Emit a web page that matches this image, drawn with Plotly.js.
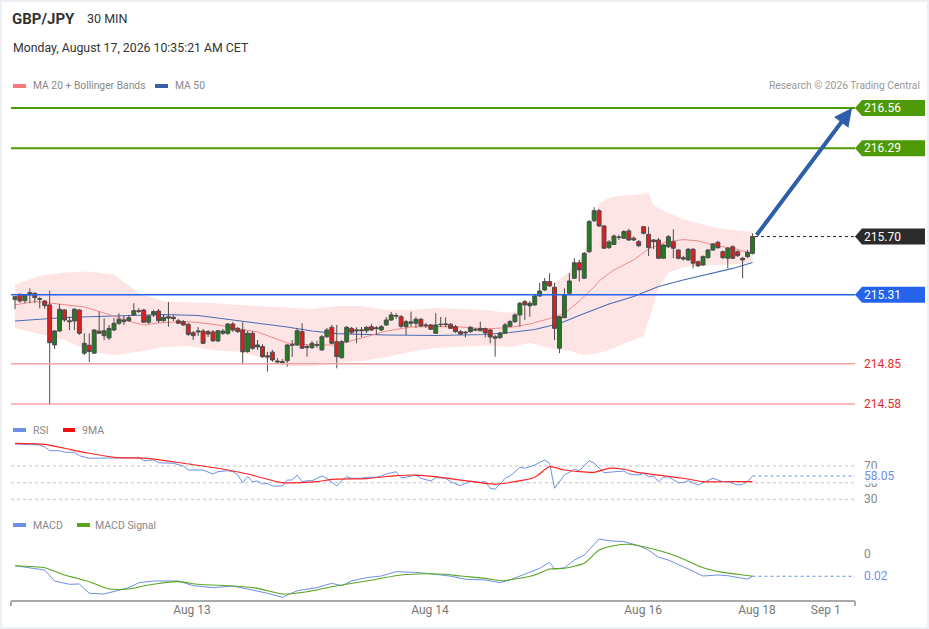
<!DOCTYPE html>
<html>
<head>
<meta charset="utf-8">
<script src="https://cdn.plot.ly/plotly-3.0.1.min.js"></script>
<style>
html,body{margin:0;padding:0;background:#fff;}
#chart{width:929px;height:629px;}
#frame{position:absolute;left:0;top:0;width:929px;height:629px;box-sizing:border-box;border:2px solid #eceff3;pointer-events:none;}
</style>
</head>
<body>
<div id="chart"></div>
<div id="frame"></div>
<script>
// ================= DATA =================
const open = [215.278,215.314,215.271,215.310,215.321,215.285,215.269,215.243,214.975,215.068,215.209,215.137,215.135,215.209,214.920,214.973,214.920,215.068,215.037,215.022,215.075,215.120,215.131,215.137,215.176,215.204,215.209,215.127,215.176,215.202,215.137,215.164,215.160,215.137,215.131,215.113,215.057,215.062,215.068,215.064,215.062,215.002,215.053,215.053,215.115,215.086,215.075,214.931,215.053,214.962,214.964,214.902,214.927,214.868,214.864,214.870,214.973,214.975,215.064,214.957,214.957,214.973,214.942,215.030,215.093,214.997,214.890,214.997,215.086,215.068,215.070,215.070,215.097,215.084,215.075,215.109,215.142,215.172,215.164,215.098,215.120,215.120,215.147,215.109,215.109,215.053,215.111,215.111,215.113,215.097,215.064,215.055,215.064,215.080,215.070,215.085,215.075,215.030,215.024,215.053,215.100,215.131,215.176,215.265,215.236,215.243,215.303,215.343,215.399,215.361,214.953,215.157,215.321,215.421,215.525,215.421,215.599,215.806,215.873,215.771,215.626,215.647,215.694,215.689,215.738,215.689,215.666,215.766,215.715,215.677,215.677,215.555,215.632,215.666,215.610,215.559,215.544,215.615,215.532,215.510,215.559,215.610,215.662,215.599,215.555,215.632,215.599,215.555,215.566,215.588];
const high = [215.303,215.318,215.314,215.354,215.325,215.298,215.276,215.338,215.075,215.249,215.214,215.164,215.220,215.214,215.053,215.053,215.080,215.198,215.153,215.109,215.155,215.187,215.169,215.176,215.254,215.222,215.216,215.176,215.209,215.216,215.176,215.261,215.176,215.149,215.142,215.122,215.068,215.095,215.082,215.075,215.075,215.075,215.082,215.122,215.129,215.095,215.127,215.068,215.068,215.008,214.981,214.929,214.942,214.888,214.882,214.981,215.008,215.089,215.120,214.975,215.002,215.002,215.042,215.089,215.109,215.109,215.008,215.102,215.095,215.093,215.095,215.102,215.115,215.102,215.109,215.162,215.196,215.187,215.176,215.142,215.198,215.162,215.155,215.122,215.115,215.187,215.162,215.160,215.122,215.109,215.075,215.068,215.102,215.089,215.131,215.091,215.082,215.042,215.062,215.122,215.142,215.187,215.263,215.276,215.269,215.310,215.390,215.423,215.455,215.390,215.169,215.354,215.455,215.555,215.544,215.597,215.811,215.896,215.884,215.778,215.677,215.714,215.711,215.744,215.751,215.701,215.677,215.771,215.766,215.684,215.691,215.651,215.711,215.748,215.617,215.570,215.624,215.624,215.540,215.574,215.617,215.657,215.671,215.607,215.630,215.641,215.607,215.564,215.610,215.722];
const low = [215.214,215.258,215.254,215.254,215.254,215.220,215.216,214.574,214.948,215.064,215.131,215.075,215.075,215.042,214.908,214.860,214.915,215.048,215.008,215.008,215.068,215.109,215.109,215.129,215.169,215.189,215.122,215.115,215.162,215.122,215.129,215.097,215.135,215.115,215.102,215.035,215.008,215.035,214.981,215.028,214.995,214.995,215.042,215.042,215.062,215.055,214.846,214.922,214.942,214.942,214.888,214.797,214.862,214.848,214.842,214.830,214.895,214.968,214.948,214.897,214.948,214.955,214.935,215.022,214.981,214.819,214.882,214.988,215.048,214.986,215.028,215.055,215.068,215.042,215.068,215.102,215.135,215.149,215.089,215.042,215.097,215.089,215.095,215.089,215.075,215.048,215.095,215.095,215.082,215.055,215.042,215.025,215.055,215.068,215.068,215.025,214.986,214.897,215.015,215.048,215.095,215.122,215.097,215.142,215.164,215.236,215.296,215.336,215.363,215.008,214.920,215.155,215.316,215.416,215.399,215.416,215.590,215.798,215.764,215.617,215.617,215.644,215.677,215.684,215.671,215.671,215.630,215.714,215.570,215.617,215.550,215.550,215.624,215.555,215.547,215.540,215.537,215.488,215.497,215.504,215.553,215.604,215.617,215.550,215.488,215.550,215.564,215.421,215.557,215.580];
const close = [215.298,215.269,215.310,215.325,215.291,215.281,215.238,214.990,215.068,215.214,215.142,215.131,215.214,215.053,214.986,214.931,215.075,215.053,215.070,215.086,215.120,215.147,215.142,215.157,215.204,215.200,215.127,215.169,215.198,215.137,215.160,215.155,215.151,215.120,215.109,215.046,215.037,215.068,214.986,215.048,215.003,215.070,215.068,215.115,215.075,215.064,214.929,215.053,214.953,214.975,214.897,214.895,214.875,214.862,214.857,214.975,214.977,215.070,214.953,214.964,214.986,214.977,215.030,215.075,214.986,214.897,214.997,215.093,215.060,215.075,215.075,215.093,215.075,215.089,215.097,215.142,215.176,215.169,215.100,215.131,215.129,215.147,215.102,215.104,215.080,215.109,215.113,215.115,215.086,215.064,215.048,215.060,215.093,215.075,215.086,215.055,215.028,215.020,215.055,215.109,215.131,215.176,215.254,215.243,215.254,215.303,215.336,215.399,215.370,215.086,215.164,215.310,215.403,215.525,215.477,215.588,215.800,215.873,215.771,215.622,215.664,215.704,215.696,215.733,215.677,215.677,215.639,215.722,215.626,215.666,215.555,215.644,215.699,215.622,215.555,215.550,215.615,215.522,215.504,215.566,215.610,215.651,215.626,215.559,215.622,215.555,215.572,215.544,215.595,215.700];

const bbUpperIdx = [0,5,10,15,20,25,30,35,40,45,50,55,60,65,70,75,80,85,90,95,100,104,107,110,112,115,117,118,120,122,125,128,129,130,132,135,137,140,142,145,149];
const bbUpper = [215.377,215.437,215.460,215.467,215.444,215.323,215.266,215.263,215.256,215.243,215.233,215.222,215.216,215.236,215.236,215.209,215.209,215.222,215.216,215.209,215.189,215.229,215.343,215.417,215.464,215.590,215.811,215.925,215.958,215.972,215.978,215.992,215.911,215.891,215.858,215.818,215.798,215.771,215.758,215.744,215.731];
const bbLowerIdx = [0,5,10,15,20,25,30,35,40,45,50,55,60,65,70,75,80,85,90,95,100,104,108,112,115,118,121,125,127,129,130,132,135,140,145,149];
const bbLower = [215.088,215.048,215.008,214.929,214.908,214.929,214.962,214.968,214.942,214.929,214.888,214.835,214.835,214.855,214.868,214.895,214.929,214.955,214.965,214.972,214.962,214.988,214.955,214.935,214.908,214.922,214.955,215.008,215.035,215.243,215.356,215.457,215.497,215.510,215.517,215.524];
const ma20Idx = [0,4,7,10,14,17,20,24,26,29,34,37,41,44,49,55,60,65,70,75,80,85,90,95,100,104,108,111,114,117,118,121,125,128,131,135,138,141,145,149];
const ma20 = [215.243,215.266,215.256,215.243,215.229,215.199,215.166,215.125,215.109,215.122,215.132,215.125,215.109,215.089,215.062,214.988,214.975,214.975,215.022,215.068,215.095,215.098,215.095,215.082,215.092,215.115,215.152,215.186,215.269,215.363,215.403,215.477,215.544,215.617,215.660,215.680,215.671,215.644,215.620,215.587];
const ma50Idx = [0,5,10,20,30,37,44,50,55,60,65,75,85,95,100,105,110,115,120,125,130,135,140,145,149];
const ma50 = [215.135,215.149,215.159,215.169,215.179,215.172,215.142,215.115,215.095,215.068,215.051,215.042,215.038,215.045,215.058,215.078,215.118,215.186,215.249,215.299,215.366,215.410,215.447,215.487,215.527];

const rsiIdx = [0,5,6,7,9,10,12,13,15,19,24,25,26,28,29,32,34,35,38,40,41,43,44,45,46,47,48,49,50,51,52,54,55,56,57,58,59,60,61,62,63,65,66,67,68,70,71,73,74,75,77,78,79,81,82,84,85,87,88,90,92,94,95,96,97,99,100,102,103,105,107,108,109,111,113,114,116,117,119,121,123,124,126,127,128,129,130,131,132,134,135,136,138,139,141,142,143,144,146,147,148,149];
const rsi = [96.4,95.2,92.8,88.4,88.4,86.5,86.5,82.4,79.3,79.3,80.0,80.5,76.4,77.2,74.0,73.3,70.0,65.2,65.2,60.4,63.2,64.4,63.2,59.2,50.0,57.2,51.2,52.0,48.4,49.3,46.0,46.0,53.2,53.2,59.2,51.2,52.4,52.4,55.3,58.0,55.3,46.0,52.4,57.2,55.3,55.3,56.5,56.5,58.0,60.4,63.2,56.0,56.5,59.2,55.3,52.0,56.0,55.3,51.2,46.4,52.0,50.5,51.2,43.3,42.1,55.3,58.0,68.5,67.3,71.2,77.2,73.3,43.3,59.2,66.1,64.4,76.4,73.3,62.0,63.2,64.0,60.4,59.2,61.3,57.2,58.0,51.2,56.5,57.2,50.0,50.0,52.4,47.2,50.0,55.3,53.2,51.2,51.2,47.2,48.1,51.2,58.05];
const rsiMaIdx = [0,6,10,15,20,27,34,41,47,54,61,64,71,77,81,85,90,97,101,105,108,111,117,120,123,126,130,135,139,145,149];
const rsiMa = [97.3,96.1,91.3,85.3,80.5,79.3,73.3,67.3,60.4,50.0,51.2,54.1,55.0,58.4,59.2,57.2,53.2,48.4,51.2,56.5,69.2,65.2,62.5,67.3,66.1,62.0,59.2,55.3,51.2,51.2,51.2];

const macdIdx = [0,6,8,11,13,15,18,20,23,25,28,33,36,40,44,47,51,54,57,61,64,66,68,71,74,77,81,85,88,90,91,95,98,100,103,106,108,109,111,113,115,118,120,123,126,128,130,132,135,138,139,142,144,147,148,149];
const macd = [-0.0099,-0.0137,-0.0232,-0.0261,-0.0258,-0.0339,-0.0345,-0.0325,-0.0290,-0.0247,-0.0232,-0.0232,-0.0273,-0.0290,-0.0276,-0.0302,-0.0339,-0.0374,-0.0317,-0.0290,-0.0252,-0.0273,-0.0232,-0.0203,-0.0189,-0.0151,-0.0157,-0.0174,-0.0190,-0.0209,-0.0217,-0.0223,-0.0247,-0.0223,-0.0174,-0.0122,-0.0070,-0.0128,-0.0117,-0.0050,-0.0006,0.0133,0.0118,0.0110,0.0075,0.0037,-0.0026,-0.0050,-0.0108,-0.0165,-0.0189,-0.0180,-0.0186,-0.0209,-0.0215,-0.0191];
const signalIdx = [0,6,10,15,19,23,27,33,37,44,49,54,59,64,71,78,83,87,90,95,98,101,105,108,111,115,118,121,124,127,132,135,139,143,146,149];
const signal = [-0.0099,-0.0117,-0.0180,-0.0238,-0.0302,-0.0302,-0.0267,-0.0238,-0.0261,-0.0276,-0.0296,-0.0345,-0.0325,-0.0282,-0.0232,-0.0180,-0.0169,-0.0174,-0.0189,-0.0209,-0.0230,-0.0215,-0.0180,-0.0128,-0.0122,-0.0078,0.0037,0.0075,0.0087,0.0066,0.0009,-0.0041,-0.0117,-0.0157,-0.0174,-0.0191];

const tickPos = [35.76, 83.84, 126.9, 149.9, 163.8];
const tickText = ['Aug 13', 'Aug 14', 'Aug 16', 'Aug 18', 'Sep 1'];
const levelValues = [216.56, 216.29, 215.70, 215.31, 214.85, 214.58];
const levelText = ['216.56', '216.29', '215.70', '215.31', '214.85', '214.58'];
const levelKind = ['green', 'green', 'dark', 'blue', 'red', 'red'];
const rsiLevels = [70, 50, 30];
const rsiLevelText = ['70', '50', '30'];
const rsiLastText = '58.05';
const macdZero = 0;
const macdZeroText = '0';
const macdLastText = '0.02';

// ================= LAYOUT HELPERS =================
const FONT = 'Roboto, "Open Sans", Arial, sans-serif';
const PLOT = {l: 11, r: 855, t: 100, b: 601};
const fx = x => (x - PLOT.l) / (PLOT.r - PLOT.l);
const fy = y => (PLOT.b - y) / (PLOT.b - PLOT.t);
const X_RANGE = [-0.81, 169.7];
const MAIN_RANGE = [214.5399, 216.6135];
const RSI_RANGE = [17.24, 113.24];
const MACD_RANGE = [-0.04061, 0.01678];
const MAIN_DOM = [fy(410), 1];
const RSI_DOM = [fy(510), fy(430)];
const MACD_DOM = [0, fy(535)];
const toPaper = (v, range, dom) => dom[0] + (v - range[0]) / (range[1] - range[0]) * (dom[1] - dom[0]);

const COLORS = {
  green: '#4e9a06', blue: '#2563eb', dark: '#2b2b2b', red: '#e62b2b', redLine: '#f4a3a3',
  ma20: '#f28a8a', ma50: '#4a6db5', rsi: '#6f8fe6', rsiMa: '#ff2424', macd: '#6f8fe6', signal: '#58a61e',
  up: '#1f7d1f', down: '#e41b1b', wick: '#4d4d4d', text: '#333', legend: '#888', axis: '#aaa'
};

const idx = close.map((_, i) => i);
const lastIdx = idx[idx.length - 1];

// ================= TRACES =================
const traces = [];
traces.push({
  type: 'scatter', mode: 'lines', xaxis: 'x', yaxis: 'y',
  x: bbUpperIdx.concat(bbLowerIdx.slice().reverse()),
  y: bbUpper.concat(bbLower.slice().reverse()),
  fill: 'toself', fillcolor: 'rgba(248,82,82,0.15)', line: {width: 0}, hoverinfo: 'skip'
});
traces.push({type: 'scatter', mode: 'lines', xaxis: 'x', yaxis: 'y', x: ma50Idx, y: ma50,
  line: {color: COLORS.ma50, width: 1.1}, hoverinfo: 'skip'});
traces.push({type: 'scatter', mode: 'lines', xaxis: 'x', yaxis: 'y', x: ma20Idx, y: ma20,
  line: {color: COLORS.ma20, width: 1}, hoverinfo: 'skip'});
traces.push({
  type: 'candlestick', xaxis: 'x', yaxis: 'y4', x: idx, open: open, high: high, low: low, close: close,
  increasing: {line: {color: COLORS.wick, width: 1}, fillcolor: COLORS.up},
  decreasing: {line: {color: COLORS.wick, width: 1}, fillcolor: COLORS.down},
  whiskerwidth: 0, hoverinfo: 'skip'
});
traces.push({type: 'scatter', mode: 'lines', xaxis: 'x', yaxis: 'y2', x: rsiIdx, y: rsi,
  line: {color: COLORS.rsi, width: 1}, hoverinfo: 'skip'});
traces.push({type: 'scatter', mode: 'lines', xaxis: 'x', yaxis: 'y2', x: rsiMaIdx, y: rsiMa,
  line: {color: COLORS.rsiMa, width: 1.2, shape: 'spline', smoothing: 0.6}, hoverinfo: 'skip'});
traces.push({type: 'scatter', mode: 'lines', xaxis: 'x', yaxis: 'y3', x: macdIdx, y: macd,
  line: {color: COLORS.macd, width: 1}, hoverinfo: 'skip'});
traces.push({type: 'scatter', mode: 'lines', xaxis: 'x', yaxis: 'y3', x: signalIdx, y: signal,
  line: {color: COLORS.signal, width: 1.1, shape: 'spline', smoothing: 0.6}, hoverinfo: 'skip'});

// ================= SHAPES =================
const shapes = [];
const labelH = 8 / (PLOT.b - PLOT.t);
levelValues.forEach((v, k) => {
  const kind = levelKind[k];
  if (kind === 'dark') {
    shapes.push({type: 'line', xref: 'x', yref: 'y', x0: lastIdx + 0.5, x1: X_RANGE[1], y0: v, y1: v,
      line: {color: '#222', width: 1, dash: 'dot'}, layer: 'above'});
  } else {
    const col = kind === 'red' ? COLORS.redLine : COLORS[kind];
    const w = kind === 'green' ? 2 : 1.5;
    shapes.push({type: 'line', xref: 'paper', yref: 'y', x0: 0, x1: 1, y0: v, y1: v,
      line: {color: col, width: w}, layer: 'above'});
  }
  if (kind !== 'red') {
    const yc = toPaper(v, MAIN_RANGE, MAIN_DOM);
    const a = fx(855), b = fx(862), c = fx(925);
    shapes.push({type: 'path', xref: 'paper', yref: 'paper',
      path: `M ${a} ${yc} L ${b} ${yc + labelH} L ${c} ${yc + labelH} L ${c} ${yc - labelH} L ${b} ${yc - labelH} Z`,
      fillcolor: COLORS[kind], line: {width: 0}, layer: 'above'});
  }
});
rsiLevels.forEach(v => {
  shapes.push({type: 'line', xref: 'paper', yref: 'y2', x0: 0, x1: 1, y0: v, y1: v,
    line: {color: '#c4c4c4', width: 1, dash: 'dot'}, layer: 'below'});
});
shapes.push({type: 'line', xref: 'x', yref: 'y2', x0: lastIdx, x1: X_RANGE[1], y0: rsi[rsi.length - 1], y1: rsi[rsi.length - 1],
  line: {color: COLORS.rsi, width: 1, dash: 'dot'}});
shapes.push({type: 'line', xref: 'x', yref: 'y3', x0: lastIdx, x1: X_RANGE[1], y0: macd[macd.length - 1], y1: macd[macd.length - 1],
  line: {color: COLORS.macd, width: 1, dash: 'dot'}});
// x axis line with end ticks
shapes.push({type: 'line', xref: 'paper', yref: 'paper', x0: 0, x1: 1, y0: 0, y1: 0, line: {color: COLORS.axis, width: 2}});
shapes.push({type: 'line', xref: 'paper', yref: 'paper', x0: 0, x1: 0, y0: 0, y1: fy(606), line: {color: COLORS.axis, width: 2}});
shapes.push({type: 'line', xref: 'paper', yref: 'paper', x0: 1, x1: 1, y0: 0, y1: fy(606), line: {color: COLORS.axis, width: 2}});
// legend swatches
const swatch = (x0, x1, yc, col) => shapes.push({type: 'rect', xref: 'paper', yref: 'paper',
  x0: fx(x0), x1: fx(x1), y0: fy(yc + 2), y1: fy(yc - 2), fillcolor: col, line: {width: 0}});
swatch(13, 26, 86, '#f77a7a');
swatch(155, 168, 86, '#3a5ea8');
swatch(13, 26, 430, COLORS.rsi);
swatch(63, 75, 430, '#ee1111');
swatch(13, 26, 525, COLORS.macd);
swatch(77, 90, 525, COLORS.signal);

// ================= ANNOTATIONS =================
const ann = [];
const txt = (text, x, y, size, color, opts) => ann.push(Object.assign({
  text: text, xref: 'paper', yref: 'paper', x: fx(x), y: fy(y), xanchor: 'left', yanchor: 'middle',
  showarrow: false, font: {family: FONT, size: size, color: color}, borderpad: 0
}, opts || {}));
txt('<b>GBP/JPY</b>', 11, 19, 15, COLORS.text);
txt('30 MIN', 86, 19, 12.5, COLORS.text);
txt('Monday, August 17, 2026 10:35:21 AM CET', 12, 48, 12.3, COLORS.text);
txt('MA 20 + Bollinger Bands', 32, 86, 10.3, COLORS.legend);
txt('MA 50', 174, 86, 10.3, COLORS.legend);
txt('Research © 2026 Trading Central', 921, 86, 10.3, '#999', {xanchor: 'right'});
txt('RSI', 32, 430, 10.5, COLORS.legend);
txt('9MA', 81, 430, 10.5, COLORS.legend);
txt('MACD', 32, 525, 10.5, COLORS.legend);
txt('MACD Signal', 94, 525, 10.5, COLORS.legend);

levelValues.forEach((v, k) => {
  const kind = levelKind[k];
  ann.push({text: levelText[k], xref: 'paper', yref: 'y', x: fx(863), y: v, xanchor: 'left', yanchor: 'middle',
    showarrow: false, borderpad: 0,
    font: {family: FONT, size: 12, color: kind === 'red' ? COLORS.red : '#fff'}});
});
rsiLevels.forEach((v, k) => {
  ann.push({text: rsiLevelText[k], xref: 'paper', yref: 'y2', x: fx(863), y: v, xanchor: 'left', yanchor: 'middle',
    showarrow: false, borderpad: 0, font: {family: FONT, size: 12, color: '#888'}});
});
ann.push({text: rsiLastText, xref: 'paper', yref: 'y2', x: fx(863), y: rsi[rsi.length - 1], xanchor: 'left', yanchor: 'middle',
  showarrow: false, borderpad: 0, bgcolor: 'rgba(255,255,255,0.85)', font: {family: FONT, size: 12, color: COLORS.rsi}});
ann.push({text: macdZeroText, xref: 'paper', yref: 'y3', x: fx(863), y: macdZero, xanchor: 'left', yanchor: 'middle',
  showarrow: false, borderpad: 0, font: {family: FONT, size: 12, color: '#888'}});
ann.push({text: macdLastText, xref: 'paper', yref: 'y3', x: fx(863), y: macd[macd.length - 1], xanchor: 'left', yanchor: 'middle',
  showarrow: false, borderpad: 0, font: {family: FONT, size: 12, color: COLORS.rsi}});
// projection arrow from last close to target level
ann.push({text: '', xref: 'x', yref: 'y', x: X_RANGE[1] - 0.6, y: levelValues[0],
  axref: 'x', ayref: 'y', ax: lastIdx + 0.6, ay: close[close.length - 1],
  showarrow: true, arrowhead: 2, arrowsize: 0.9, arrowwidth: 4, arrowcolor: '#2f5ea8', standoff: 0});

// ================= LAYOUT =================
const hidden = {showgrid: false, zeroline: false, showticklabels: false, ticks: '', showline: false, fixedrange: true};
const layout = {
  width: 929, height: 629,
  margin: {l: PLOT.l, r: 929 - PLOT.r, t: PLOT.t, b: 629 - PLOT.b, pad: 0},
  paper_bgcolor: '#fff', plot_bgcolor: 'rgba(0,0,0,0)',
  font: {family: FONT, color: COLORS.text},
  showlegend: false,
  boxgap: 0.12, boxgroupgap: 0.1,
  xaxis: {range: X_RANGE, domain: [0, 1], anchor: 'y3', showgrid: false, zeroline: false, showline: false,
    ticks: '', tickvals: tickPos, ticktext: tickText, tickfont: {family: FONT, size: 12, color: '#777'},
    rangeslider: {visible: false}, fixedrange: true},
  yaxis: Object.assign({domain: MAIN_DOM, range: MAIN_RANGE, anchor: 'x'}, hidden),
  yaxis4: Object.assign({overlaying: 'y', range: MAIN_RANGE, anchor: 'x'}, hidden),
  yaxis2: Object.assign({domain: RSI_DOM, range: RSI_RANGE, anchor: 'x'}, hidden),
  yaxis3: Object.assign({domain: MACD_DOM, range: MACD_RANGE, anchor: 'x'}, hidden),
  shapes: shapes,
  annotations: ann
};

Plotly.newPlot('chart', traces, layout, {displayModeBar: false, staticPlot: true});
</script>
</body>
</html>
